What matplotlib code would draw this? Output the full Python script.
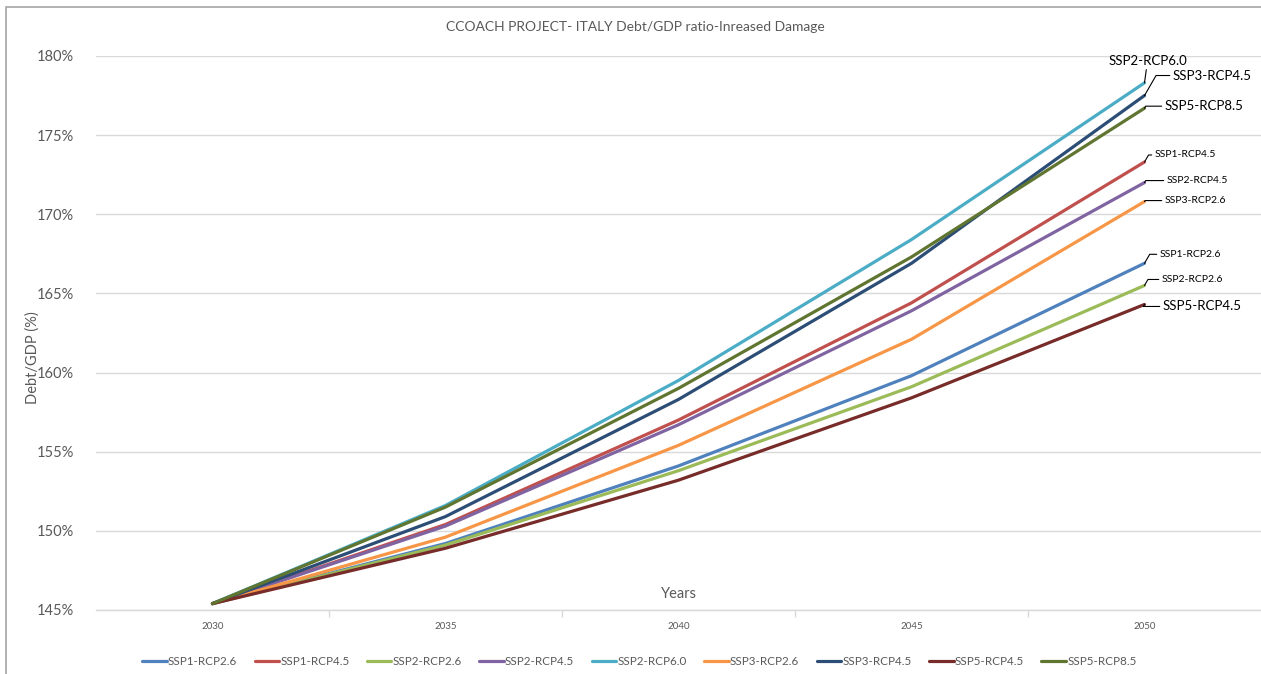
import matplotlib
matplotlib.use('Agg')
import matplotlib.pyplot as plt
from matplotlib.patches import Rectangle
from matplotlib.ticker import FuncFormatter, FixedLocator

plt.rcParams['font.family'] = ['Lato', 'DejaVu Sans']

years = ['2030', '2035', '2040', '2045', '2050']

scenarios = ['SSP1-RCP2.6', 'SSP1-RCP4.5', 'SSP2-RCP2.6', 'SSP2-RCP4.5', 'SSP2-RCP6.0',
             'SSP3-RCP2.6', 'SSP3-RCP4.5', 'SSP5-RCP4.5', 'SSP5-RCP8.5']

ssp1_rcp26 = [145.4, 149.2, 154.1, 159.8, 166.9]
ssp1_rcp45 = [145.4, 150.4, 157.0, 164.4, 173.3]
ssp2_rcp26 = [145.4, 149.1, 153.8, 159.1, 165.5]
ssp2_rcp45 = [145.4, 150.3, 156.7, 163.9, 172.0]
ssp2_rcp60 = [145.4, 151.6, 159.5, 168.4, 178.3]
ssp3_rcp26 = [145.4, 149.6, 155.4, 162.1, 170.8]
ssp3_rcp45 = [145.4, 150.9, 158.3, 166.9, 177.5]
ssp5_rcp45 = [145.4, 148.9, 153.2, 158.4, 164.3]
ssp5_rcp85 = [145.4, 151.5, 159.0, 167.3, 176.7]

series = [ssp1_rcp26, ssp1_rcp45, ssp2_rcp26, ssp2_rcp45, ssp2_rcp60,
          ssp3_rcp26, ssp3_rcp45, ssp5_rcp45, ssp5_rcp85]

colors = ['#4F81BD', '#C0504D', '#9BBB59', '#8064A2', '#4BACC6',
          '#F79646', '#2C4D75', '#772C2A', '#5F7530']

# end-label offsets (pixels from last point) and font sizes
label_offsets = {
    'SSP2-RCP6.0': (3, 16, 9.5),
    'SSP3-RCP4.5': (28, 20, 9.5),
    'SSP5-RCP8.5': (20, 2, 9.5),
    'SSP1-RCP4.5': (10, 7, 7.5),
    'SSP2-RCP4.5': (22, 2, 7.5),
    'SSP3-RCP2.6': (20, 1, 7.5),
    'SSP1-RCP2.6': (15, 9, 7.5),
    'SSP2-RCP2.6': (17, 6, 7.5),
    'SSP5-RCP4.5': (18, -2, 9.5),
}

fig = plt.figure(figsize=(12.61, 6.74), dpi=100)
ax = fig.add_axes([0.0761, 0.0950, 0.9239, 0.8220])

x = list(range(len(years)))
for name, vals, c in zip(scenarios, series, colors):
    ax.plot(x, vals, color=c, linewidth=2.3, label=name, solid_capstyle='round')

for name, vals in zip(scenarios, series):
    dx, dy, fs = label_offsets[name]
    if name == 'SSP2-RCP6.0':
        ax.annotate(name, xy=(x[-1], vals[-1]), xytext=(dx, dy), textcoords='offset pixels',
                    ha='center', va='bottom', fontsize=fs, color='black', annotation_clip=False,
                    arrowprops=dict(arrowstyle='-', color='black', lw=0.8, shrinkA=0, shrinkB=0))
    else:
        ax.annotate(name, xy=(x[-1], vals[-1]), xytext=(dx, dy), textcoords='offset pixels',
                    ha='left', va='center', fontsize=fs, color='black', annotation_clip=False,
                    arrowprops=dict(arrowstyle='-', color='black', lw=0.8, shrinkA=0, shrinkB=0,
                                    connectionstyle='angle,angleA=0,angleB=60,rad=0'))

ax.set_xlim(-0.5, len(years) - 0.5)
ax.set_ylim(145, 180)
ax.set_yticks(range(145, 181, 5))
ax.yaxis.set_major_formatter(FuncFormatter(lambda v, p: '%d%%' % v))
ax.set_xticks(x)
ax.set_xticklabels(years)
ax.xaxis.set_minor_locator(FixedLocator([0.5, 1.5, 2.5, 3.5]))
ax.tick_params(axis='x', which='major', length=0, labelsize=7, colors='#595959', pad=9)
ax.tick_params(axis='x', which='minor', length=5, color='#D9D9D9', width=1)
ax.tick_params(axis='y', length=0, labelsize=10.5, colors='#595959', pad=16)

ax.grid(axis='y', color='#D9D9D9', linewidth=1)
ax.set_axisbelow(True)
for s in ['top', 'right', 'left']:
    ax.spines[s].set_visible(False)
ax.spines['bottom'].set_color('#D9D9D9')
ax.spines['bottom'].set_linewidth(1)

ax.text(0.5, 0.017, 'Years', transform=ax.transAxes, ha='center', va='bottom',
        fontsize=10.5, color='#595959')
fig.text(0.026, 0.47, 'Debt/GDP (%)', rotation=90, ha='center', va='center',
         fontsize=10.5, color='#595959')
fig.text(0.504, 0.96, 'CCOACH PROJECT- ITALY Debt/GDP ratio-Inreased Damage',
         ha='center', va='center', fontsize=10, color='#595959')

leg = fig.legend(loc='center', bbox_to_anchor=(0.507, 0.018), ncol=9, frameon=False,
                 fontsize=8.4, handlelength=2.1, handletextpad=0.1, columnspacing=1.5)
for t in leg.get_texts():
    t.set_color('#595959')

fig.patches.append(Rectangle((6 / 1261, -0.01), 1.1, 1 - 7 / 674 + 0.01, transform=fig.transFigure,
                             fill=False, edgecolor='#A6A6A6', linewidth=1.2))

fig.savefig('out.png', dpi=100)
